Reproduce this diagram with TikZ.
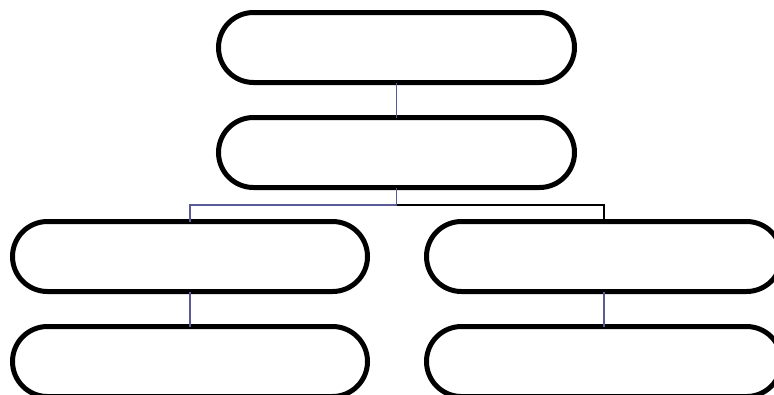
\documentclass[tikz,border=0pt]{standalone}
\definecolor{linkpurple}{RGB}{90,90,150}
\begin{document}
\begin{tikzpicture}[x=1pt,y=-1pt,
  pill/.style={draw=black, line width=5pt, fill=white, rounded corners=35pt,
    minimum width=356pt, minimum height=70pt, inner sep=0pt, outer sep=0pt},
  linkp/.style={draw=linkpurple, line width=1.6pt},
  linkb/.style={draw=black, line width=1.4pt}]
\useasboundingbox (0,0) rectangle (774,394);
\node[pill] (a) at (396.5,47.5) {};
\node[pill] (b) at (396.5,152.5) {};
\node[pill, minimum width=355pt] (c) at (190,256.5) {};
\node[pill, minimum width=355pt] (d) at (604,256.5) {};
\node[pill, minimum width=355pt] (e) at (190,361.5) {};
\node[pill, minimum width=355pt] (f) at (604,361.5) {};
\coordinate (j) at (396.5,204.8);
\draw[linkb] (j) -| (d.north);
\draw[linkp] (b.south) -- (j) -| (c.north);
\draw[linkp] (c.south) -- (e.north);
\draw[linkp] (d.south) -- (f.north);
\draw[linkp] (a.south) -- (b.north);
\end{tikzpicture}
\end{document}
